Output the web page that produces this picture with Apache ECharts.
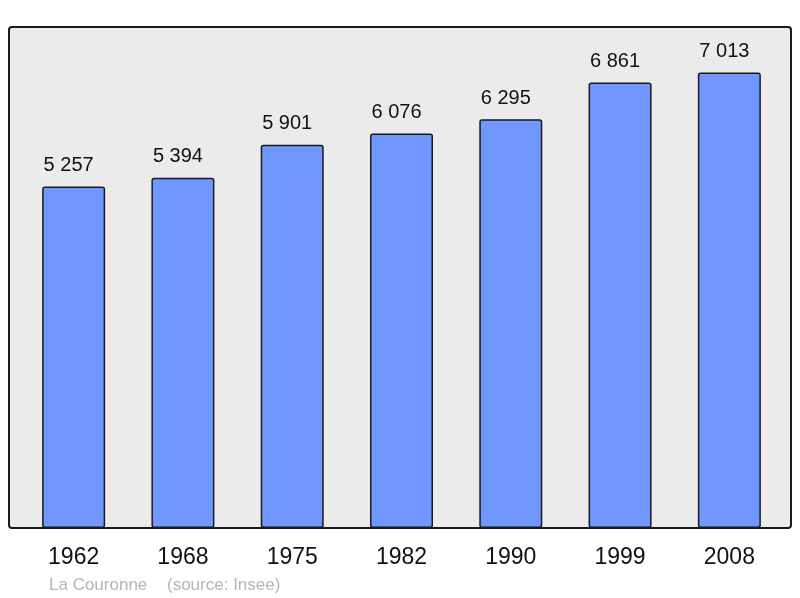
<!DOCTYPE html>
<html>
<head>
<meta charset="utf-8">
<script src="https://cdn.jsdelivr.net/npm/echarts@6/dist/echarts.min.js"></script>
<style>
  html, body { margin: 0; padding: 0; background: #fff; }
  #chart { width: 800px; height: 598px; }
</style>
</head>
<body>
<div id="chart"></div>
<script>
// population by census year
const years = ["1962", "1968", "1975", "1982", "1990", "1999", "2008"];
const population = [5257, 5394, 5901, 6076, 6295, 6861, 7013];
const commune = "La Couronne";
const source = "(source: Insee)";

const chart = echarts.init(document.getElementById("chart"));
const font = "'Liberation Sans', Arial, sans-serif";

const fmt = (v) => String(v).replace(/\B(?=(\d{3})+(?!\d))/g, " ");

chart.setOption({
  animation: false,
  grid: { left: 19, right: 16, top: 27, bottom: 70 },
  graphic: [
    {
      type: "rect",
      z: -10,
      shape: { x: 9, y: 27, width: 782, height: 501, r: 3 },
      style: { fill: "#ebebeb", stroke: "#1a1a1a", lineWidth: 2 }
    },
    {
      type: "text",
      left: 49, top: 577,
      style: { text: commune, fontSize: 17, fontFamily: font, fill: "#b5b5b5" }
    },
    {
      type: "text",
      left: 167, top: 577,
      style: { text: source, fontSize: 17, fontFamily: font, fill: "#b5b5b5" }
    }
  ],
  xAxis: {
    type: "category",
    data: years,
    axisLine: { show: false },
    axisTick: { show: false },
    axisLabel: { fontSize: 23, fontFamily: font, color: "#111", margin: 18 }
  },
  yAxis: {
    type: "value",
    min: 0,
    max: 7714,
    show: false,
    splitLine: { show: false }
  },
  series: [
    {
      type: "bar",
      data: population,
      barWidth: 63,
      itemStyle: {
        color: "#7096ff",
        borderColor: "#1a1a1a",
        borderWidth: 1.5,
        borderRadius: 2
      },
      label: {
        show: true,
        position: "top",
        distance: 11,
        offset: [-5, 0],
        fontSize: 20,
        fontFamily: font,
        color: "#111",
        formatter: (p) => fmt(p.value)
      }
    }
  ]
});
</script>
</body>
</html>
